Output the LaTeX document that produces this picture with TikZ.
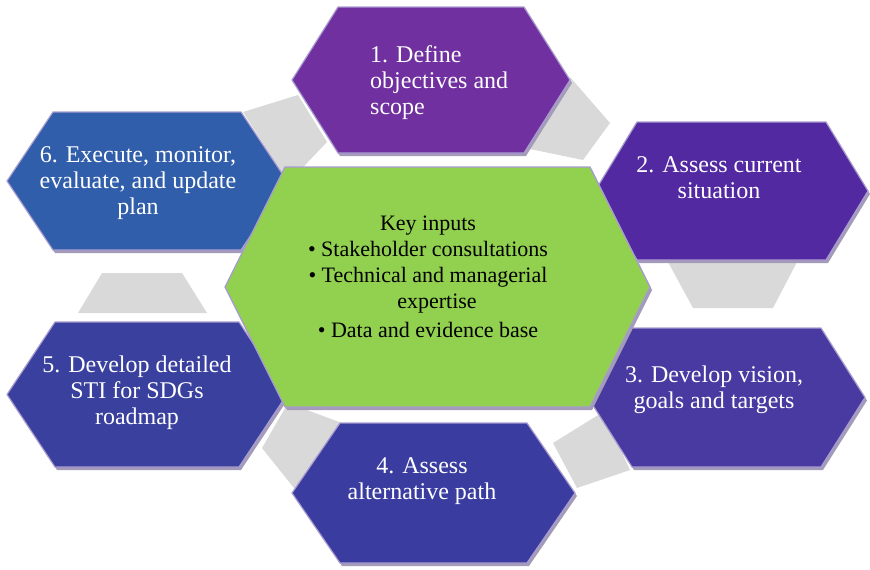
\documentclass[tikz,border=0pt]{standalone}
\usepackage{fontspec}
\setmainfont{Liberation Serif}
\definecolor{cone}{HTML}{7030A0}
\definecolor{ctwo}{HTML}{5229A0}
\definecolor{cthree}{HTML}{483AA0}
\definecolor{cfour}{HTML}{3A3CA0}
\definecolor{cfive}{HTML}{39409E}
\definecolor{csix}{HTML}{305EAA}
\definecolor{cgreen}{HTML}{92D050}
\definecolor{cgray}{HTML}{D9D9D9}
\definecolor{cborder}{HTML}{A99BD0}
\definecolor{cshadow}{HTML}{A39BB8}
\newcommand\hexp[5]{({#1-#3},#2) -- ({#1-#3+#5},{#2-#4}) -- ({#1+#3-#5},{#2-#4}) -- ({#1+#3},#2) -- ({#1+#3-#5},{#2+#4}) -- ({#1-#3+#5},{#2+#4}) -- cycle}
\newcommand\drawhex[6]{%
  \fill[cshadow, shift={(2,3)}] \hexp{#1}{#2}{#3}{#4}{#5};
  \filldraw[draw=cborder, line width=1.2pt, fill=#6] \hexp{#1}{#2}{#3}{#4}{#5};
}
\tikzset{
  link/.style={fill=cgray},
  hextxt/.style={text=white, inner sep=0pt, align=center, font=\fontsize{24}{26}\selectfont},
  midtxt/.style={text=black, inner sep=0pt, align=center, font=\fontsize{22}{26}\selectfont}
}
\begin{document}
\begin{tikzpicture}[x=1pt, y=-1pt]
\useasboundingbox (0,0) rectangle (870,570);
% gray links
\fill[link] (243,112) -- (298,95) -- (327,142) -- (288,183) -- cycle;
\fill[link] (570,77) -- (610,123) -- (583,160) -- (525,148) -- cycle;
\fill[link] (668,262) -- (797,262) -- (773,308) -- (693,308) -- cycle;
\fill[link] (553,443) -- (603,412) -- (630,470) -- (577,488) -- cycle;
\fill[link] (288,403) -- (342,423) -- (298,493) -- (262,448) -- cycle;
\fill[link] (102,273) -- (182,273) -- (207,313) -- (78,313) -- cycle;
% hexagons
\drawhex{431}{80}{139}{73}{46}{cone}
\drawhex{731.5}{191}{136.5}{69}{42}{ctwo}
\drawhex{726.5}{397.5}{138.5}{69.5}{44}{cthree}
\drawhex{433.5}{493}{141.5}{70}{48}{cfour}
\drawhex{147}{394.5}{140}{72.5}{48}{cfive}
\drawhex{147}{181}{140}{69}{46}{csix}
\drawhex{437.5}{287}{212.5}{120}{60}{cgreen}
% texts
\node[hextxt, align=left, anchor=north west] (t1) at (370,43.8) {\strut 1. Define\\objectives and\\scope};
\node[hextxt, anchor=north] (t2) at (719,153.8) {\strut 2. Assess current\\situation};
\node[hextxt, anchor=north] (t3) at (714,363.8) {\strut 3. Develop vision,\\goals and targets};
\node[hextxt, anchor=north] (t4) at (422,454.8) {\strut 4. Assess\\alternative path};
\node[hextxt, anchor=north] (t5) at (137,353.8) {\strut 5. Develop detailed\\STI for SDGs\\roadmap};
\node[hextxt, anchor=north] (t6) at (138,143.8) {\strut 6. Execute, monitor,\\evaluate, and update\\plan};
\node[midtxt, anchor=north] (mid) at (428,211.8) {\strut Key inputs\\\textbullet\ Stakeholder consultations\\\textbullet\ Technical and managerial\\\hspace*{18pt}expertise\\[3pt]\textbullet\ Data and evidence base};
\end{tikzpicture}
\end{document}
